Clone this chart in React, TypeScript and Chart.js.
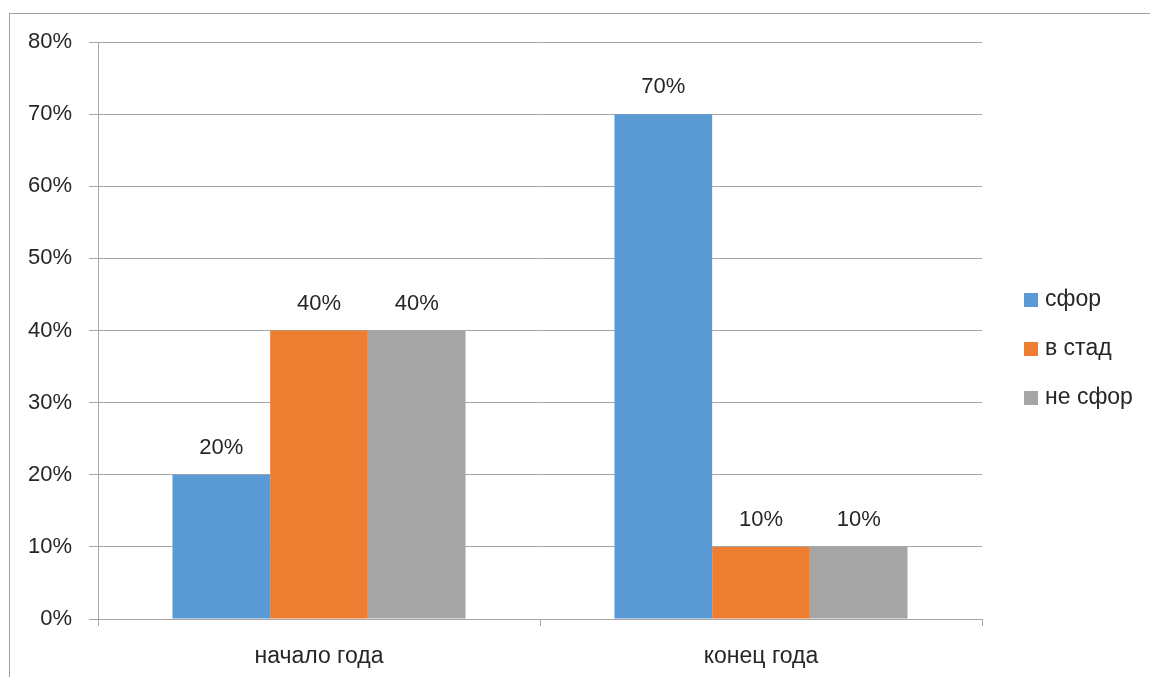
import React, { useEffect, useRef } from "react";
import { Chart, registerables } from "chart.js";

Chart.register(...registerables);

const categories = ["начало года", "конец года"];
const seriesNames = ["сфор", "в стад", "не сфор"];
const seriesColors = ["#5B9BD5", "#ED7D31", "#A5A5A5"];
const sforValues = [20, 70];
const vStadValues = [40, 10];
const neSforValues = [40, 10];
const yTicks = [0, 10, 20, 30, 40, 50, 60, 70, 80];

const FONT = "'Liberation Sans', Arial, sans-serif";
const FONT_SIZE = 22;
const TEXT_SIZE = 23;
const TEXT_COLOR = "#262626";
const GRID_COLOR = "#A6A6A6";

export default function App() {
  const ref = useRef<HTMLCanvasElement | null>(null);

  useEffect(() => {
    if (!ref.current) return;

    const labelsPlugin = {
      id: "valueLabels",
      afterDatasetsDraw(chart: any) {
        const ctx = chart.ctx;
        ctx.save();
        ctx.font = `${FONT_SIZE}px ${FONT}`;
        ctx.fillStyle = TEXT_COLOR;
        ctx.textAlign = "center";
        ctx.textBaseline = "middle";
        chart.data.datasets.forEach((ds: any, i: number) => {
          const meta = chart.getDatasetMeta(i);
          meta.data.forEach((bar: any, j: number) => {
            ctx.fillText(ds.data[j] + "%", bar.x, bar.y - 27);
          });
        });
        ctx.restore();
      },
    };

    const legendPlugin = {
      id: "customLegend",
      afterDraw(chart: any) {
        const ctx = chart.ctx;
        ctx.save();
        ctx.font = `${TEXT_SIZE}px ${FONT}`;
        ctx.textAlign = "left";
        ctx.textBaseline = "middle";
        const x = chart.chartArea.right + 42;
        const y0 = 300;
        chart.data.datasets.forEach((ds: any, i: number) => {
          const y = y0 + i * 49;
          ctx.fillStyle = ds.backgroundColor;
          ctx.fillRect(x, y - 7, 14, 14);
          ctx.fillStyle = TEXT_COLOR;
          ctx.fillText(ds.label, x + 21, y);
        });
        ctx.restore();
      },
    };

    const chart = new Chart(ref.current, {
      type: "bar",
      data: {
        labels: categories,
        datasets: [
          { label: seriesNames[0], data: sforValues, backgroundColor: seriesColors[0] },
          { label: seriesNames[1], data: vStadValues, backgroundColor: seriesColors[1] },
          { label: seriesNames[2], data: neSforValues, backgroundColor: seriesColors[2] },
        ],
      },
      options: {
        animation: false,
        responsive: false,
        layout: { padding: { top: 42, right: 168, left: 0, bottom: 0 } },
        datasets: {
          bar: { barPercentage: 1, categoryPercentage: 0.663 },
        },
        plugins: {
          legend: { display: false },
          tooltip: { enabled: false },
        },
        scales: {
          x: {
            offset: true,
            grid: {
              offset: true,
              drawOnChartArea: false,
              drawTicks: true,
              tickLength: 7,
              color: GRID_COLOR,
            },
            border: { display: true, color: GRID_COLOR },
            ticks: {
              color: TEXT_COLOR,
              font: { family: FONT, size: TEXT_SIZE },
              padding: 17,
            },
            afterFit(scale: any) {
              scale.height = 58;
            },
          },
          y: {
            min: 0,
            max: 80,
            afterBuildTicks(scale: any) {
              scale.ticks = yTicks.map((v) => ({ value: v }));
            },
            grid: {
              color: GRID_COLOR,
              tickLength: 9,
            },
            border: { display: true, color: GRID_COLOR },
            ticks: {
              color: TEXT_COLOR,
              font: { family: FONT, size: FONT_SIZE },
              padding: 17,
              callback: (v: any) => v + "%",
            },
            afterFit(scale: any) {
              scale.width = 98;
            },
          },
        },
      },
      plugins: [labelsPlugin, legendPlugin],
    });

    return () => chart.destroy();
  }, []);

  return (
    <div style={{ position: "fixed", left: 0, top: 0, width: 1150, height: 677, background: "#fff" }}>
      <div
        style={{
          position: "absolute",
          left: 9,
          top: 13,
          width: 1141,
          height: 664,
          borderLeft: "1px solid #A0A0A0",
          borderTop: "1px solid #A0A0A0",
          boxSizing: "border-box",
        }}
      />
      <canvas ref={ref} width={1150} height={677} style={{ position: "absolute", left: 0, top: 0 }} />
    </div>
  );
}
